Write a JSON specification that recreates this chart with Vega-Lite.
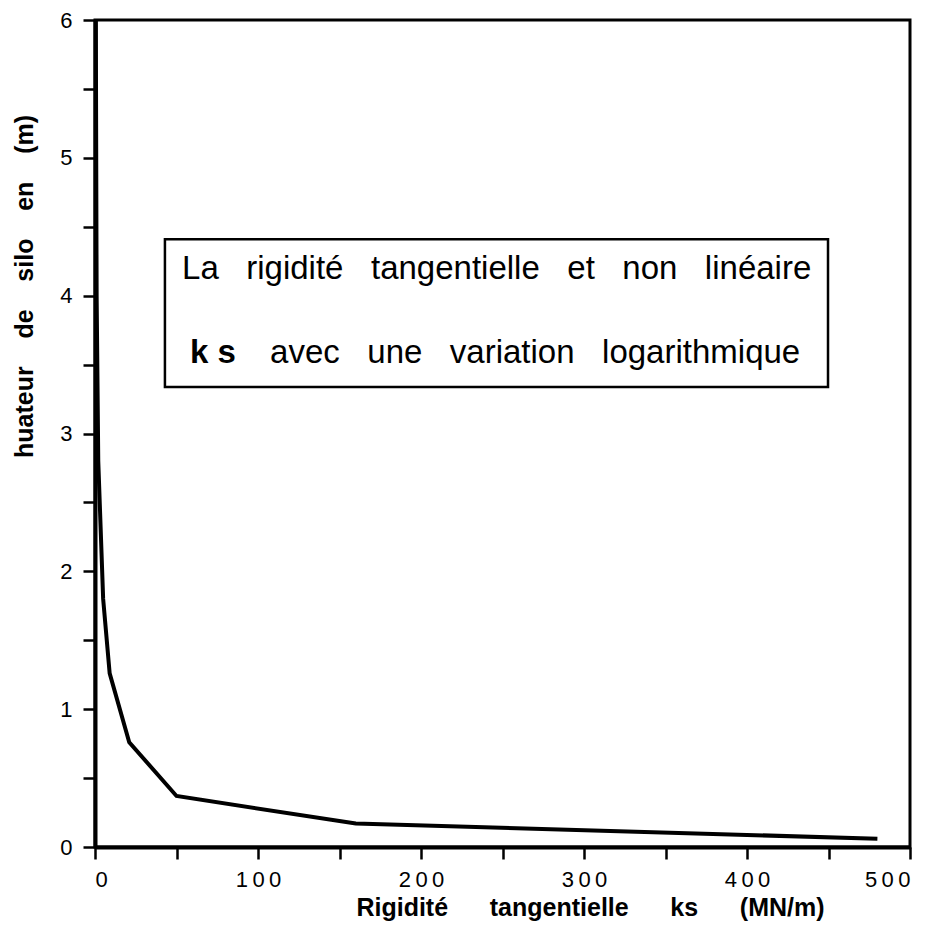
{
  "$schema": "https://vega.github.io/schema/vega-lite/v6.json",
  "autosize": {"type": "none"},
  "width": 815,
  "height": 827,
  "padding": {"left": 95, "top": 20, "right": 27, "bottom": 80},
  "background": "white",
  "config": {
    "view": {"stroke": "black", "strokeWidth": 3},
    "font": "Liberation Sans",
    "axis": {"grid": false, "domainColor": "black", "domainWidth": 4, "tickColor": "black", "tickWidth": 2.5, "labelColor": "black", "titleColor": "black", "labelFont": "Liberation Sans", "titleFont": "Liberation Sans", "labelFontSize": 22, "titleFontSize": 25, "titleFontWeight": "bold"}
  },
  "datasets": {
    "curve": [
      {"ks": 0.5, "h": 6.0},
      {"ks": 1.0, "h": 4.0},
      {"ks": 2.0, "h": 2.8},
      {"ks": 5.0, "h": 1.8},
      {"ks": 9.0, "h": 1.26},
      {"ks": 21.0, "h": 0.76},
      {"ks": 50.0, "h": 0.37},
      {"ks": 160.0, "h": 0.17},
      {"ks": 480.0, "h": 0.06}
    ],
    "box": [{"x1": 42.9, "x2": 449.7, "y1": 4.41, "y2": 3.337}],
    "line1": [{"x": 53.4, "y": 4.12, "t": "La\u00a0\u00a0\u00a0rigidité\u00a0\u00a0\u00a0tangentielle\u00a0\u00a0\u00a0et\u00a0\u00a0\u00a0non\u00a0\u00a0\u00a0linéaire"}],
    "ks": [{"x": 58.3, "y": 3.51, "t": "k s"}],
    "line2": [{"x": 107.4, "y": 3.51, "t": "avec\u00a0\u00a0\u00a0une\u00a0\u00a0\u00a0variation\u00a0\u00a0\u00a0logarithmique"}]
  },
  "layer": [
    {
      "data": {"name": "curve"},
      "mark": {"type": "line", "color": "black", "strokeWidth": 4, "clip": true},
      "encoding": {
        "x": {"field": "ks", "type": "quantitative", "scale": {"domain": [0, 500], "nice": false},
          "axis": {"values": [0, 50, 100, 150, 200, 250, 300, 350, 400, 450, 500], "labelExpr": "datum.value % 100 === 0 ? join(split(datum.label, ''), '\u2009') : ''", "labelFontSize": 22, "tickSize": 12, "labelPadding": 10,
            "title": "Rigidité\u00a0\u00a0\u00a0\u00a0\u00a0\u00a0tangentielle\u00a0\u00a0\u00a0\u00a0\u00a0\u00a0ks\u00a0\u00a0\u00a0\u00a0\u00a0\u00a0(MN/m)", "titleX": 495, "titleY": 68, "titleBaseline": "alphabetic",
            "encode": {"ticks": {"enter": {"y2": {"signal": "datum.value % 100 === 0 ? 12 : 6"}}, "update": {"y2": {"signal": "datum.value % 100 === 0 ? 12 : 6"}}}}}},
        "y": {"field": "h", "type": "quantitative", "scale": {"domain": [0, 6], "nice": false},
          "axis": {"values": [0, 0.5, 1, 1.5, 2, 2.5, 3, 3.5, 4, 4.5, 5, 5.5, 6], "labelExpr": "datum.value % 1 === 0 ? format(datum.value, 'd') : ''", "labelFontSize": 22, "tickSize": 12, "labelPadding": 11,
            "title": "huateur\u00a0\u00a0\u00a0\u00a0de\u00a0\u00a0\u00a0\u00a0silo\u00a0\u00a0\u00a0\u00a0en\u00a0\u00a0\u00a0\u00a0(m)", "titleX": -63, "titleY": 266, "titleBaseline": "alphabetic",
            "encode": {"ticks": {"enter": {"x2": {"signal": "datum.value % 1 === 0 ? -12 : -6"}}, "update": {"x2": {"signal": "datum.value % 1 === 0 ? -12 : -6"}}}}}}
      }
    },
    {
      "data": {"name": "box"},
      "mark": {"type": "rect", "fill": null, "fillOpacity": 0, "stroke": "black", "strokeWidth": 2.5},
      "encoding": {
        "x": {"field": "x1", "type": "quantitative"},
        "x2": {"field": "x2"},
        "y": {"field": "y1", "type": "quantitative"},
        "y2": {"field": "y2"}
      }
    },
    {
      "data": {"name": "line1"},
      "mark": {"type": "text", "fontSize": 33, "color": "black", "baseline": "alphabetic", "align": "left"},
      "encoding": {
        "x": {"field": "x", "type": "quantitative"},
        "y": {"field": "y", "type": "quantitative"},
        "text": {"field": "t"}
      }
    },
    {
      "data": {"name": "ks"},
      "mark": {"type": "text", "fontSize": 33, "fontWeight": "bold", "color": "black", "baseline": "alphabetic", "align": "left"},
      "encoding": {
        "x": {"field": "x", "type": "quantitative"},
        "y": {"field": "y", "type": "quantitative"},
        "text": {"field": "t"}
      }
    },
    {
      "data": {"name": "line2"},
      "mark": {"type": "text", "fontSize": 33, "color": "black", "baseline": "alphabetic", "align": "left"},
      "encoding": {
        "x": {"field": "x", "type": "quantitative"},
        "y": {"field": "y", "type": "quantitative"},
        "text": {"field": "t"}
      }
    }
  ]
}
